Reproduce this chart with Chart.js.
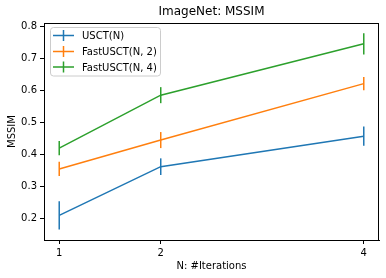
<!DOCTYPE html>
<html>
<head>
<meta charset="utf-8">
<script src="https://cdn.jsdelivr.net/npm/chart.js@4"></script>
<style>
  body { margin: 0; background: #fff; }
  #chart { display: block; }
</style>
</head>
<body>
<canvas id="chart" width="386" height="278"></canvas>
<script>
const iterations = [1, 2, 4];
const seriesNames = ["USCT(N)", "FastUSCT(N, 2)", "FastUSCT(N, 4)"];
const usct = [0.21, 0.362, 0.457];
const usctErr = [0.044, 0.026, 0.030];
const fast2 = [0.355, 0.445, 0.621];
const fast2Err = [0.022, 0.025, 0.021];
const fast4 = [0.42, 0.585, 0.745];
const fast4Err = [0.022, 0.025, 0.033];
const yTicks = [0.2, 0.3, 0.4, 0.5, 0.6, 0.7, 0.8];
const colors = ["#1f77b4", "#ff7f0e", "#2ca02c"];

const FONT = "'DejaVu Sans', sans-serif";

function points(vals) {
  return iterations.map((x, i) => ({ x: x, y: vals[i] }));
}

const errs = [usctErr, fast2Err, fast4Err];

// error bars, spines, title and legend drawn on top
const extras = {
  id: "extras",
  afterDatasetsDraw(chart) {
    const ctx = chart.ctx;
    const xs = chart.scales.x, ys = chart.scales.y;
    const area = chart.chartArea;

    ctx.save();
    ctx.lineWidth = 1.5;
    chart.data.datasets.forEach((ds, d) => {
      ctx.strokeStyle = colors[d];
      ds.data.forEach((p, i) => {
        const px = xs.getPixelForValue(p.x);
        ctx.beginPath();
        ctx.moveTo(px, ys.getPixelForValue(p.y - errs[d][i]));
        ctx.lineTo(px, ys.getPixelForValue(p.y + errs[d][i]));
        ctx.stroke();
      });
    });

    // top / right spines
    ctx.strokeStyle = "#000";
    ctx.lineWidth = 1;
    ctx.beginPath();
    ctx.moveTo(area.left, area.top + 0.5);
    ctx.lineTo(area.right, area.top + 0.5);
    ctx.moveTo(area.right - 0.5, area.top);
    ctx.lineTo(area.right - 0.5, area.bottom);
    ctx.stroke();

    // title, centred over the axes
    ctx.fillStyle = "#000";
    ctx.font = "12px " + FONT;
    ctx.textAlign = "center";
    ctx.textBaseline = "middle";
    ctx.fillText("ImageNet: MSSIM", (area.left + area.right) / 2, 12);

    // legend
    const lx = 50.5, ly = 27.5, lw = 110, lh = 48.5;
    ctx.fillStyle = "rgba(255,255,255,0.8)";
    ctx.strokeStyle = "#cccccc";
    ctx.beginPath();
    ctx.roundRect(lx, ly, lw, lh, 3);
    ctx.fill();
    ctx.stroke();
    const rows = [35.5, 51.5, 67];
    ctx.font = "10px " + FONT;
    ctx.textAlign = "left";
    seriesNames.forEach((name, i) => {
      ctx.strokeStyle = colors[i];
      ctx.lineWidth = 1.5;
      ctx.beginPath();
      ctx.moveTo(53, rows[i]);
      ctx.lineTo(74, rows[i]);
      ctx.moveTo(63.5, rows[i] - 5.5);
      ctx.lineTo(63.5, rows[i] + 5.5);
      ctx.stroke();
      ctx.fillStyle = "#000";
      ctx.fillText(name, 82, rows[i] + 1);
    });
    ctx.restore();
  }
};

new Chart(document.getElementById("chart"), {
  type: "line",
  data: {
    datasets: [
      { label: seriesNames[0], data: points(usct), borderColor: colors[0] },
      { label: seriesNames[1], data: points(fast2), borderColor: colors[1] },
      { label: seriesNames[2], data: points(fast4), borderColor: colors[2] }
    ]
  },
  options: {
    responsive: false,
    animation: false,
    devicePixelRatio: 1,
    layout: { padding: { top: 23, right: 7, left: 0, bottom: 0 } },
    elements: {
      line: { borderWidth: 1.5, tension: 0, fill: false },
      point: { radius: 0, hoverRadius: 0 }
    },
    plugins: { legend: { display: false }, tooltip: { enabled: false }, title: { display: false } },
    scales: {
      x: {
        type: "linear",
        min: 0.85,
        max: 4.15,
        afterBuildTicks: s => { s.ticks = iterations.map(v => ({ value: v })); },
        afterFit: s => { s.height = 38; },
        ticks: { color: "#000", font: { family: FONT, size: 10 }, padding: 3, maxRotation: 0, callback: v => String(v) },
        grid: { display: true, drawOnChartArea: false, drawTicks: true, tickLength: 4, color: "#000" },
        border: { display: true, color: "#000", width: 1 },
        title: { display: true, text: "N: #Iterations", color: "#000", font: { family: FONT, size: 10 }, padding: { top: 0, bottom: 6 } }
      },
      y: {
        min: 0.1334,
        max: 0.81,
        afterBuildTicks: s => { s.ticks = yTicks.map(v => ({ value: v })); },
        afterFit: s => { s.width = 44; },
        ticks: { color: "#000", font: { family: FONT, size: 10 }, padding: 3, callback: v => v.toFixed(1) },
        grid: { display: true, drawOnChartArea: false, drawTicks: true, tickLength: 4, color: "#000" },
        border: { display: true, color: "#000", width: 1 },
        title: { display: true, text: "MSSIM", color: "#000", font: { family: FONT, size: 10 }, padding: { top: 6, bottom: 0 } }
      }
    }
  },
  plugins: [extras]
});
</script>
</body>
</html>
